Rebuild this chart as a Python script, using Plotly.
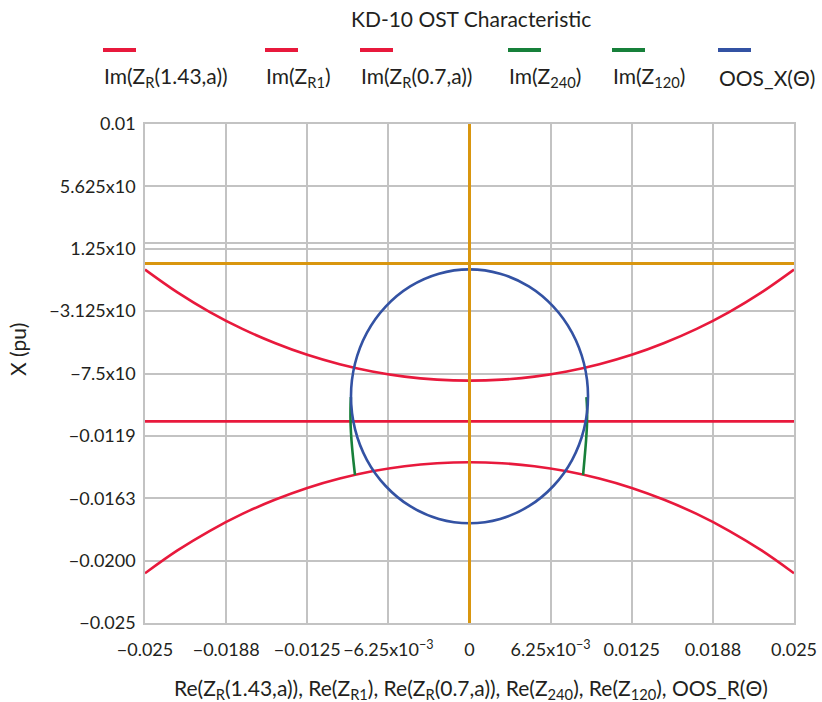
import plotly.graph_objects as go

# ---- data -------------------------------------------------------------
# relay characteristic arcs (upper/lower) sampled along R
arc_r = [-0.025, -0.0225, -0.02, -0.0175, -0.015, -0.0125, -0.01, -0.0075, -0.005, -0.0025, 0.0,
         0.0025, 0.005, 0.0075, 0.01, 0.0125, 0.015, 0.0175, 0.02, 0.0225, 0.025]
arc_upper_x = [-0.00021, -0.00181, -0.00319, -0.00437, -0.00536, -0.00619, -0.00685, -0.00736, -0.00772, -0.00793, -0.00800,
               -0.00793, -0.00772, -0.00736, -0.00685, -0.00619, -0.00536, -0.00437, -0.00319, -0.00181, -0.00021]
arc_lower_x = [-0.02151, -0.01991, -0.01853, -0.01735, -0.01636, -0.01553, -0.01487, -0.01436, -0.01400, -0.01379, -0.01372,
               -0.01379, -0.01400, -0.01436, -0.01487, -0.01553, -0.01636, -0.01735, -0.01853, -0.01991, -0.02151]

# ZR1 reactance line
zr1_r = [-0.025, 0.025]
zr1_x = [-0.01086, -0.01086]

# Z240 / Z120 trajectories
z240_r = [-0.00914, -0.00917, -0.00916, -0.00909, -0.00897, -0.00882]
z240_x = [-0.00916, -0.01000, -0.01110, -0.01220, -0.01340, -0.01463]
z120_r = [0.00901, 0.00906, 0.00905, 0.00898, 0.00887, 0.00875]
z120_x = [-0.00916, -0.01000, -0.01110, -0.01220, -0.01340, -0.01463]

# out-of-step locus
oos_r = [0.0, 0.00236, 0.00457, 0.00646, 0.00791, 0.00882, 0.00913, 0.00882, 0.00791, 0.00646, 0.00457, 0.00236,
         0.0, -0.00236, -0.00457, -0.00646, -0.00791, -0.00882, -0.00913, -0.00882, -0.00791, -0.00646, -0.00457, -0.00236, 0.0]
oos_x = [-0.00020, -0.00050, -0.00139, -0.00281, -0.00465, -0.00680, -0.00910, -0.01140, -0.01355, -0.01539, -0.01681, -0.01770,
         -0.01800, -0.01770, -0.01681, -0.01539, -0.01355, -0.01140, -0.00910, -0.00680, -0.00465, -0.00281, -0.00139, -0.00050, -0.00020]

# marker lines
marker_r = 0.0
marker_x = 0.00022

# axes
x_ticks = [-0.025, -0.01875, -0.0125, -0.00625, 0.0, 0.00625, 0.0125, 0.01875, 0.025]
x_ticktext = ["\u22120.025", "\u22120.0188", "\u22120.0125", "\u22126.25x10<sup>\u22123</sup>", "0",
              "6.25x10<sup>\u22123</sup>", "0.0125", "0.0188", "0.025"]
y_ticks = [0.01, 0.005625, 0.00165, 0.00125, -0.003125, -0.0075, -0.011875, -0.01625, -0.020625, -0.025]
y_ticktext = ["0.01", "5.625x10", "", "1.25x10", "\u22123.125x10", "\u22127.5x10", "\u22120.0119",
              "\u22120.0163", "\u22120.0200", "\u22120.025"]

legend_labels = ["Im(Z<sub>R</sub>(1.43,a))", "Im(Z<sub>R1</sub>)", "Im(Z<sub>R</sub>(0.7,a))",
                 "Im(Z<sub>240</sub>)", "Im(Z<sub>120</sub>)", "OOS_X(\u0398)"]
x_title = ("Re(Z<sub>R</sub>(1.43,a)), Re(Z<sub>R1</sub>), Re(Z<sub>R</sub>(0.7,a)), "
           "Re(Z<sub>240</sub>), Re(Z<sub>120</sub>), OOS_R(\u0398)")
y_title = "X (pu)"
chart_title = "KD-10 OST Characteristic"

# ---- style ------------------------------------------------------------
RED = "#e8193c"
GREEN = "#17803a"
BLUE = "#3352a3"
ORANGE = "#d9960f"
GRID = "#c3c3c3"
TXT = "#231f20"
FONT = "Lato"
legend_colors = [RED, RED, RED, GREEN, GREEN, BLUE]
legend_left_px = [103, 265, 360, 508, 612, 718]

W, H = 822, 702
L, R, T, B = 145, 28, 124, 79

fig = go.Figure()
lw = 2.6
fig.add_trace(go.Scatter(x=arc_r, y=arc_upper_x, mode="lines", line=dict(color=RED, width=lw, shape="spline")))
fig.add_trace(go.Scatter(x=zr1_r, y=zr1_x, mode="lines", line=dict(color=RED, width=lw)))
fig.add_trace(go.Scatter(x=arc_r, y=arc_lower_x, mode="lines", line=dict(color=RED, width=lw, shape="spline")))
fig.add_trace(go.Scatter(x=z240_r, y=z240_x, mode="lines", line=dict(color=GREEN, width=lw, shape="spline")))
fig.add_trace(go.Scatter(x=z120_r, y=z120_x, mode="lines", line=dict(color=GREEN, width=lw, shape="spline")))
fig.add_trace(go.Scatter(x=oos_r, y=oos_x, mode="lines", line=dict(color=BLUE, width=lw, shape="spline")))
# crossing markers
fig.add_trace(go.Scatter(x=[x_ticks[0], x_ticks[-1]], y=[marker_x, marker_x], mode="lines",
                         line=dict(color=ORANGE, width=3)))
fig.add_trace(go.Scatter(x=[marker_r, marker_r], y=[y_ticks[-1], y_ticks[0]], mode="lines",
                         line=dict(color=ORANGE, width=3)))

# pixel -> paper helpers for the header / titles
pw, ph = W - L - R, H - T - B


def px2x(px):
    return (px - L) / pw


def py2y(py):
    return (H - B - py) / ph


shapes = []
annotations = []
# legend: swatch above each label
for lab, col, lx in zip(legend_labels, legend_colors, legend_left_px):
    shapes.append(dict(type="line", xref="paper", yref="paper", x0=px2x(lx), x1=px2x(lx + 33),
                       y0=py2y(50), y1=py2y(50), line=dict(color=col, width=4)))
    annotations.append(dict(text=lab, xref="paper", yref="paper", x=px2x(lx - 1), y=py2y(77),
                            xanchor="left", yanchor="middle", showarrow=False,
                            font=dict(family=FONT, size=21, color=TXT)))

annotations.append(dict(text=chart_title, xref="paper", yref="paper", x=px2x(471), y=py2y(19),
                        xanchor="center", yanchor="middle", showarrow=False,
                        font=dict(family=FONT, size=21, color=TXT)))
annotations.append(dict(text=x_title, xref="paper", yref="paper", x=px2x(471), y=py2y(689),
                        xanchor="center", yanchor="middle", showarrow=False,
                        font=dict(family=FONT, size=21, color=TXT)))
annotations.append(dict(text=y_title, xref="paper", yref="paper", x=px2x(17), y=py2y(350),
                        xanchor="center", yanchor="middle", showarrow=False, textangle=-90,
                        font=dict(family=FONT, size=21, color=TXT)))

axis_common = dict(showgrid=True, gridcolor=GRID, gridwidth=1.5, zeroline=False, automargin=False,
                   showline=True, mirror=True, linecolor=GRID, linewidth=1.5, ticks="",
                   tickfont=dict(family=FONT, size=18, color=TXT))

fig.update_layout(
    width=W, height=H,
    margin=dict(l=L, r=R, t=T, b=B, autoexpand=False),
    paper_bgcolor="white", plot_bgcolor="white",
    showlegend=False,
    xaxis=dict(range=[-0.025, 0.025], tickvals=x_ticks, ticktext=x_ticktext, ticklabelstandoff=10,
               **axis_common),
    yaxis=dict(range=[-0.025, 0.01], tickvals=y_ticks, ticktext=y_ticktext, ticklabelstandoff=4,
               **axis_common),
    shapes=shapes, annotations=annotations,
)

fig.write_html("out.html")
